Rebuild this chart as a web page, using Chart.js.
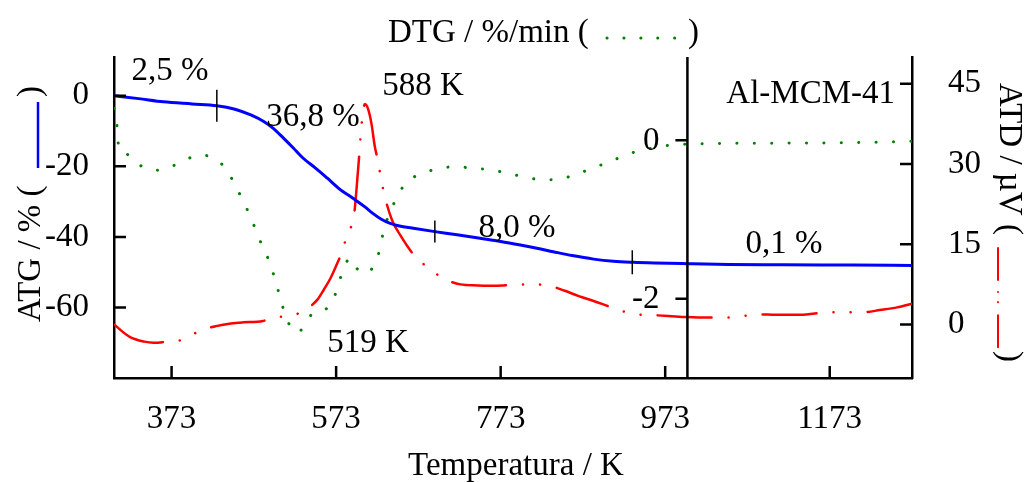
<!DOCTYPE html>
<html lang="pt">
<head>
  <meta charset="UTF-8">
  <title>Al-MCM-41 - ATG / DTG / ATD</title>
  <style>
    body { margin: 0; background: #fff; }
    #wrap { width: 1024px; height: 482px; }
  </style>
</head>
<body>
  <div id="wrap"><canvas id="grafico" width="1024" height="482"></canvas></div>

  <script src="https://cdn.jsdelivr.net/npm/chart.js"></script>
  <script>
    // Dados (temperatura em K)
    const atgT = [303, 333, 363, 398, 428, 450, 470, 485, 497, 509, 521, 533, 548, 562, 578, 590, 598, 608, 618, 628, 638, 650, 665, 693, 720, 748, 773, 797, 817, 837, 860, 886, 910, 934, 960, 1000, 1050, 1117, 1200, 1273];
    const atgVal = [0, -0.8, -1.7, -2.3, -2.8, -3.8, -5.5, -7.3, -9.3, -12.0, -14.8, -17.7, -20.5, -23.3, -26.6, -28.5, -29.8, -31.5, -33.4, -35.0, -36.1, -36.9, -37.5, -38.5, -39.4, -40.4, -41.3, -42.3, -43.2, -44.2, -45.3, -46.3, -46.9, -47.2, -47.4, -47.6, -47.8, -47.9, -48.0, -48.1];

    const dtgT = [303, 306, 307.5, 309, 316, 327, 337, 347, 357, 367, 378, 388, 398, 409, 418, 429, 439, 450, 460, 470, 478, 487, 495, 501, 507, 513, 520, 526, 533, 543, 553, 564, 574, 580, 590, 597, 604, 611, 618, 626, 630, 636, 645, 657, 677, 698, 720, 740, 761, 781, 802, 823, 844, 865, 885, 906, 926, 948, 969, 989, 1007, 1050, 1100, 1150, 1200, 1250, 1273];
    const dtgVal = [0.40, 0.25, 0.06, -0.13, -0.16, -0.26, -0.33, -0.37, -0.38, -0.35, -0.31, -0.26, -0.21, -0.19, -0.20, -0.26, -0.36, -0.56, -0.77, -0.99, -1.21, -1.41, -1.63, -1.84, -2.06, -2.27, -2.36, -2.43, -2.36, -2.20, -2.15, -2.10, -1.89, -1.68, -1.49, -1.60, -1.68, -1.66, -1.60, -1.38, -1.18, -0.97, -0.76, -0.55, -0.42, -0.36, -0.33, -0.36, -0.37, -0.42, -0.46, -0.50, -0.49, -0.43, -0.35, -0.27, -0.18, -0.12, -0.075, -0.055, -0.047, -0.04, -0.037, -0.035, -0.03, -0.02, -0.013];

    const atdT = [303, 322, 340, 351, 362, 371, 386, 407, 427, 445, 460, 484, 495, 511, 526, 540, 550, 558, 566, 574, 582, 587, 594, 600, 604, 608, 612, 616, 620, 624, 628, 633, 641, 651, 667, 684, 705, 724, 745, 760, 776, 793, 812, 833, 851, 868, 886, 904, 921, 938, 958, 977, 999, 1025, 1048, 1068, 1088, 1107, 1137, 1173, 1194, 1214, 1234, 1255, 1273];
    const atdVal = [0.0, -2.3, -3.2, -3.4, -3.3, -3.1, -2.9, -1.2, -0.3, 0.2, 0.4, 0.65, 1.3, 1.5, 2.0, 3.2, 4.6, 6.5, 8.6, 11.3, 14.4, 17.4, 19.6, 29.5, 37.5, 41.2, 40.2, 37.5, 33.3, 30.5, 26.9, 23.4, 19.5, 16.7, 13.1, 10.7, 8.5, 7.5, 7.3, 7.25, 7.3, 7.5, 7.5, 7.2, 6.3, 5.3, 4.4, 3.4, 2.5, 1.9, 1.75, 1.6, 1.4, 1.3, 1.3, 1.6, 1.9, 1.8, 1.8, 2.3, 2.3, 2.3, 2.7, 3.2, 3.9];

    // Marcas das etapas de perda de massa sobre a curva ATG
    const markT = [428, 693, 933];

    // Rótulos dos eixos
    const xTicks = [373, 573, 773, 973, 1173];
    const atgTicks = [0, -20, -40, -60];
    const atdTicks = [0, 15, 30, 45];
    const dtgTicks = [0, -2];
    const dtgAxisT = 1000;

    const pts = (t, v) => t.map((k, i) => ({ x: k, y: v[i] }));
    const fonte = 'Liberation Serif';
    const fonte33 = '33px "Liberation Serif"';

    // Plugin: marcas internas, eixo DTG, anotações e títulos com amostra de linha
    const extras = {
      id: 'extras',
      afterDatasetsDraw(chart) {
        const { ctx, chartArea: a, scales } = chart;
        const x = scales.x, y = scales.y, y2 = scales.y2, y3 = scales.y3;
        ctx.save();
        ctx.strokeStyle = '#000';
        ctx.lineWidth = 2.5;
        ctx.beginPath();
        xTicks.forEach(v => { const p = x.getPixelForValue(v); ctx.moveTo(p, a.bottom); ctx.lineTo(p, a.bottom - 12); });
        atgTicks.forEach(v => { const p = y.getPixelForValue(v); ctx.moveTo(a.left, p); ctx.lineTo(a.left + 12, p); });
        atdTicks.forEach(v => { const p = y2.getPixelForValue(v); ctx.moveTo(a.right, p); ctx.lineTo(a.right - 12, p); });
        const dx = x.getPixelForValue(dtgAxisT);
        ctx.moveTo(dx, a.top); ctx.lineTo(dx, a.bottom);
        dtgTicks.forEach(v => { const p = y3.getPixelForValue(v); ctx.moveTo(dx, p); ctx.lineTo(dx - 12, p); });
        ctx.stroke();

        // marcas finas sobre a ATG
        const meio = [16, 11, 12];
        ctx.lineWidth = 1.5;
        ctx.beginPath();
        markT.forEach((t, i) => {
          let j = atgT.findIndex(k => k >= t);
          const f = (t - atgT[j - 1]) / (atgT[j] - atgT[j - 1]);
          const v = atgVal[j - 1] + f * (atgVal[j] - atgVal[j - 1]);
          const px = x.getPixelForValue(t), py = y.getPixelForValue(v);
          ctx.moveTo(px, py - meio[i]); ctx.lineTo(px, py + meio[i]);
        });
        ctx.stroke();

        ctx.fillStyle = '#000';
        ctx.font = fonte33;
        ctx.textBaseline = 'middle';
        ctx.textAlign = 'right';
        dtgTicks.forEach(v => ctx.fillText(String(v), dx - 28, y3.getPixelForValue(v) + 1));

        // anotações (posição em K e em % de ATG)
        ctx.textBaseline = 'alphabetic';
        const notas = [
          ['2,5 %', 371, 4.5, 'center'],
          ['36,8 %', 545, -8.6, 'center'],
          ['588 K', 678.6, 0.24, 'center'],
          ['8,0 %', 792.9, -40.0, 'center'],
          ['0,1 %', 1117.4, -44.6, 'center'],
          ['519 K', 611.7, -72.6, 'center'],
          ['Al-MCM-41', 1252.3, -2.0, 'right']
        ];
        notas.forEach(n => {
          ctx.textAlign = n[3];
          ctx.fillText(n[0], x.getPixelForValue(n[1]), y.getPixelForValue(n[2]));
        });

        // título do eixo x
        ctx.textAlign = 'center';
        ctx.fillText('Temperatura / K', (a.left + a.right) / 2 + 3, 475);

        // título de cima (DTG)
        ctx.textAlign = 'left';
        ctx.fillText('DTG / %/min (', 388, 42);
        ctx.fillText(')', 688, 42);
        ctx.strokeStyle = '#008000';
        ctx.lineWidth = 3;
        ctx.lineCap = 'round';
        ctx.setLineDash([0.1, 16.8]);
        ctx.beginPath(); ctx.moveTo(607, 38); ctx.lineTo(676, 38); ctx.stroke();

        // título da esquerda (ATG)
        ctx.save();
        ctx.translate(40, 322);
        ctx.rotate(-Math.PI / 2);
        ctx.setLineDash([]);
        ctx.fillText('ATG / % (', 0, 0);
        ctx.fillText(')', 225, 0);
        ctx.strokeStyle = '#0000ff';
        ctx.lineWidth = 2.5;
        ctx.lineCap = 'butt';
        ctx.beginPath(); ctx.moveTo(154, -2); ctx.lineTo(220, -2); ctx.stroke();
        ctx.restore();

        // título da direita (ATD)
        ctx.save();
        ctx.translate(1000, 83);
        ctx.rotate(Math.PI / 2);
        ctx.fillText('ATD / µV (', 0, 0);
        ctx.fillText(')', 268, 0);
        ctx.strokeStyle = '#ff0000';
        ctx.lineWidth = 2;
        ctx.lineCap = 'round';
        ctx.setLineDash([32, 12, 0.1, 10, 0.1, 13]);
        ctx.beginPath(); ctx.moveTo(165, 2); ctx.lineTo(265, 2); ctx.stroke();
        ctx.restore();

        ctx.restore();
      }
    };

    const eixoFonte = { family: fonte, size: 33 };
    const semFormato = v => String(v);

    new Chart(document.getElementById('grafico'), {
      type: 'line',
      data: {
        datasets: [
          {
            label: 'ATG',
            data: pts(atgT, atgVal),
            yAxisID: 'y',
            borderColor: '#0000ff',
            borderWidth: 3,
            pointRadius: 0,
            cubicInterpolationMode: 'monotone'
          },
          {
            label: 'ATD',
            data: pts(atdT, atdVal),
            yAxisID: 'y2',
            borderColor: '#ff0000',
            borderWidth: 2.5,
            borderCapStyle: 'round',
            borderDash: [54, 17, 0.1, 17, 0.1, 17],
            pointRadius: 0,
            cubicInterpolationMode: 'monotone'
          },
          {
            label: 'DTG',
            data: pts(dtgT, dtgVal),
            yAxisID: 'y3',
            borderColor: '#008000',
            borderWidth: 3,
            borderCapStyle: 'round',
            borderDash: [0.1, 17.3],
            pointRadius: 0,
            cubicInterpolationMode: 'monotone'
          }
        ]
      },
      options: {
        responsive: false,
        animation: false,
        devicePixelRatio: 1,
        layout: { padding: { top: 57, left: 0, right: 0, bottom: 0 } },
        plugins: { legend: { display: false }, tooltip: { enabled: false } },
        scales: {
          x: {
            type: 'linear',
            min: 303,
            max: 1273,
            afterBuildTicks: s => { s.ticks = xTicks.map(v => ({ value: v })); },
            afterFit: s => { s.height = 104; },
            grid: { display: false },
            border: { display: true, color: '#000', width: 2.5 },
            ticks: { font: eixoFonte, color: '#000', padding: 14, maxRotation: 0, callback: semFormato }
          },
          y: {
            position: 'left',
            min: -80,
            max: 11,
            afterBuildTicks: s => { s.ticks = atgTicks.map(v => ({ value: v })); },
            afterFit: s => { s.width = 114; },
            grid: { display: false },
            border: { display: true, color: '#000', width: 2.5 },
            ticks: { font: eixoFonte, color: '#000', padding: 17, callback: semFormato }
          },
          y2: {
            position: 'right',
            min: -10,
            max: 50,
            afterBuildTicks: s => { s.ticks = atdTicks.map(v => ({ value: v })); },
            afterFit: s => { s.width = 112; },
            grid: { display: false },
            border: { display: true, color: '#000', width: 2.5 },
            ticks: { font: eixoFonte, color: '#000', padding: 28, callback: semFormato }
          },
          y3: {
            display: false,
            min: -3,
            max: 1.05
          }
        }
      },
      plugins: [extras]
    });
  </script>
</body>
</html>
